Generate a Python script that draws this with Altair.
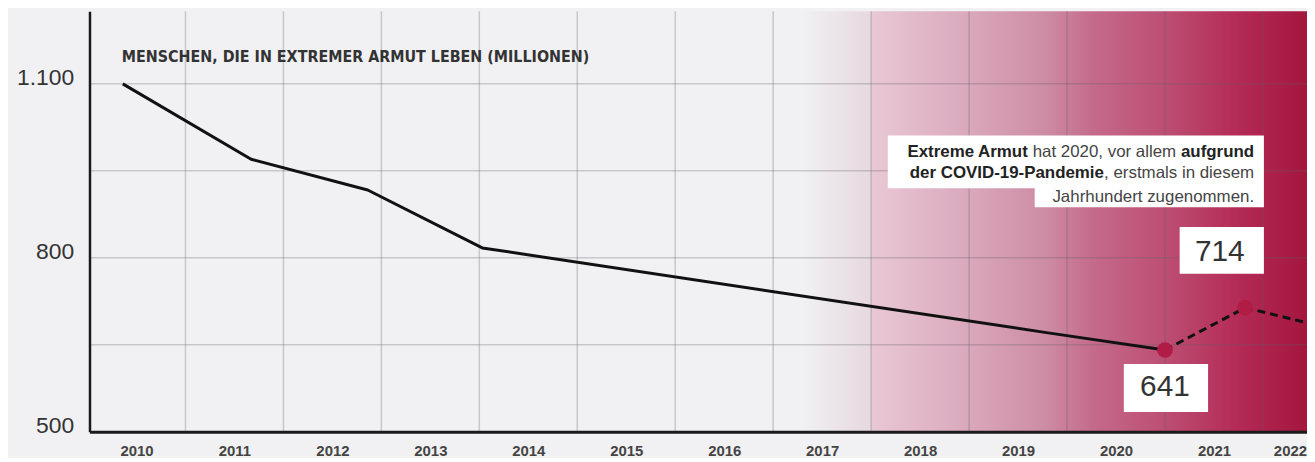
import altair as alt
import pandas as pd

# ---------------- data ----------------
SOLID_YEAR = [2009.86, 2011.17, 2012.36, 2013.53, 2019.29, 2020.50]
SOLID_VALUE = [1100, 970, 917, 817, 671, 641]
DASH_YEAR = [2020.50, 2021.32, 2021.95]
DASH_VALUE = [641, 714, 688]
DOT_YEAR = [2020.50, 2021.32]
DOT_VALUE = [641, 714]

X_TICKS = [2010, 2011, 2012, 2013, 2014, 2015, 2016, 2017, 2018, 2019, 2020, 2021]
LAST_TICK = "2022"
Y_TICKS = [500, 800, 1100]
Y_GRID = [650, 800, 950, 1100]
X_GRID = [2010.5, 2011.5, 2012.5, 2013.5, 2014.5, 2015.5, 2016.5, 2017.5,
          2018.5, 2019.5, 2020.5, 2021.5]

TITLE = "MENSCHEN, DIE IN EXTREMER ARMUT LEBEN (MILLIONEN)"
LABEL_641 = "641"
LABEL_714 = "714"

# shaded period (light fade, then strong gradient)
FADE_START, FADE_END = 2016.78, 2017.5

# ---------------- scales / axes ----------------
X_DOMAIN = [2009.52, 2021.95]
Y_DOMAIN = [500, 1225]
SHADE_END = X_DOMAIN[1]
XS = alt.Scale(domain=X_DOMAIN, nice=False, zero=False)
YS = alt.Scale(domain=Y_DOMAIN, nice=False, zero=False)

XLAB = dict(font="Liberation Sans", fontWeight="bold", fontSize=15, color="#444444")

XAXIS = alt.Axis(values=X_TICKS, title=None, format="d", grid=False, ticks=False,
                 labelFont=XLAB["font"], labelFontWeight="bold",
                 labelFontSize=XLAB["fontSize"], labelColor=XLAB["color"], labelPadding=12,
                 labelBaseline="top", domainColor="#1a1a1a", domainWidth=3, zindex=1)
YAXIS = alt.Axis(values=Y_TICKS, title=None, grid=False, ticks=False,
                 labelExpr="replace(format(datum.value, ','), ',', '.')",
                 labelFont="Liberation Sans", labelFontSize=23, labelColor="#333333",
                 labelBaseline="alphabetic", labelPadding=16, labelOffset=1,
                 domainColor="#1a1a1a", domainWidth=2.5, zindex=1)


def X(field="x"):
    return alt.X(f"{field}:Q", scale=XS, axis=XAXIS)


def Y(field="y"):
    return alt.Y(f"{field}:Q", scale=YS, axis=YAXIS)


layers = []

# background gradients
fade = pd.DataFrame({"x": [FADE_START], "x2": [FADE_END], "y": [Y_DOMAIN[0]], "y2": [Y_DOMAIN[1]]})
layers.append(
    alt.Chart(fade).mark_rect(
        fill=alt.Gradient(gradient="linear", x1=0, x2=1, y1=0, y2=0,
                          stops=[alt.GradientStop(color="#f1f1f3", offset=0),
                                 alt.GradientStop(color="#e6d8df", offset=1)])
    ).encode(x=X(), x2="x2:Q", y=Y(), y2="y2:Q")
)
shade = pd.DataFrame({"x": [FADE_END], "x2": [SHADE_END], "y": [Y_DOMAIN[0]], "y2": [Y_DOMAIN[1]]})
layers.append(
    alt.Chart(shade).mark_rect(
        fill=alt.Gradient(gradient="linear", x1=0, x2=1, y1=0, y2=0,
                          stops=[alt.GradientStop(color="#e9c8d5", offset=0),
                                 alt.GradientStop(color="#dcadc0", offset=0.19),
                                 alt.GradientStop(color="#cd8ca4", offset=0.40),
                                 alt.GradientStop(color="#c46a8a", offset=0.51),
                                 alt.GradientStop(color="#bd4f74", offset=0.67),
                                 alt.GradientStop(color="#b32955", offset=0.85),
                                 alt.GradientStop(color="#a3163e", offset=1)])
    ).encode(x=X(), x2="x2:Q", y=Y(), y2="y2:Q")
)

# grid lines
hgrid = pd.DataFrame({"y": Y_GRID})
layers.append(
    alt.Chart(hgrid).mark_rule(color="#5e5e68", opacity=0.28, strokeWidth=1.5).encode(y=Y())
)
vgrid = pd.DataFrame({"x": X_GRID})
layers.append(
    alt.Chart(vgrid).mark_rule(color="#5e5e68", opacity=0.28, strokeWidth=1.5).encode(x=X())
)

# lines
solid = pd.DataFrame({"x": SOLID_YEAR, "y": SOLID_VALUE})
layers.append(
    alt.Chart(solid).mark_line(color="#111111", strokeWidth=3, strokeJoin="round").encode(x=X(), y=Y())
)
dashed = pd.DataFrame({"x": DASH_YEAR, "y": DASH_VALUE})
layers.append(
    alt.Chart(dashed).mark_line(color="#111111", strokeWidth=3, strokeDash=[8, 5]).encode(x=X(), y=Y())
)
dots = pd.DataFrame({"x": DOT_YEAR, "y": DOT_VALUE})
layers.append(
    alt.Chart(dots).mark_circle(color="#b01c46", opacity=1, size=250).encode(x=X(), y=Y())
)

# last x tick label, squeezed against the right edge as in the original
last = pd.DataFrame({"x": [X_DOMAIN[1]], "y": [Y_DOMAIN[0]], "t": [LAST_TICK]})
layers.append(
    alt.Chart(last).mark_text(align="right", baseline="top", dy=12, **XLAB)
    .encode(x=X(), y=Y(), text="t:N")
)

# title text
title_df = pd.DataFrame({"x": [2009.85], "y": [1146], "t": [TITLE]})
layers.append(
    alt.Chart(title_df).mark_text(align="left", baseline="middle",
                                  font="DejaVu Sans Condensed, sans-serif",
                                  fontWeight="bold", fontSize=16, color="#333333")
    .encode(x=X(), y=Y(), text="t:N")
)

# white boxes
boxes = pd.DataFrame({
    "x": [2017.67, 2019.17, 2020.65, 2020.08],
    "x2": [2021.51, 2021.51, 2021.51, 2020.94],
    "y": [1011, 920.5, 853, 617],
    "y2": [920, 887, 772.5, 534],
})
layers.append(
    alt.Chart(boxes).mark_rect(fill="white").encode(x=X(), x2="x2:Q", y=Y(), y2="y2:Q")
)

# value labels
vals = pd.DataFrame({"x": [2021.06, 2020.50], "y": [810, 577], "t": [LABEL_714, LABEL_641]})
layers.append(
    alt.Chart(vals).mark_text(align="center", baseline="middle", font="Liberation Sans",
                              fontSize=30, color="#333333")
    .encode(x=X(), y=Y(), text="t:N")
)

# annotation (right-aligned, mixed weights)
ANN_X = 2021.41
ANN_SEGMENTS = [
    # text, y, weight, dx
    ("aufgrund", 981.7, "bold", 0),
    ("hat 2020, vor allem", 981.7, "normal", -78.4),
    ("Extreme Armut", 981.7, "bold", -227.7),
    (", erstmals in diesem", 945.7, "normal", 0),
    ("der COVID-19-Pandemie", 945.7, "bold", -151.1),
    ("Jahrhundert zugenommen.", 904.6, "normal", 0),
]
for txt, yy, wt, dx in ANN_SEGMENTS:
    df = pd.DataFrame({"x": [ANN_X], "y": [yy], "t": [txt]})
    layers.append(
        alt.Chart(df).mark_text(align="right", baseline="middle", font="Liberation Sans",
                                fontSize=17, fontWeight=wt, dx=dx,
                                color="#222222" if wt == "bold" else "#444444")
        .encode(x=X(), y=Y(), text="t:N")
    )

chart = alt.layer(*layers).properties(
    width=1225, height=423,
    autosize=alt.AutoSizeParams(type="none"),
    padding={"left": 82, "top": 2, "right": 0, "bottom": 25},
    background="#f1f1f3",
).configure_view(stroke=None)

chart.save("out.html", embed_options={"renderer": "svg", "actions": False})
